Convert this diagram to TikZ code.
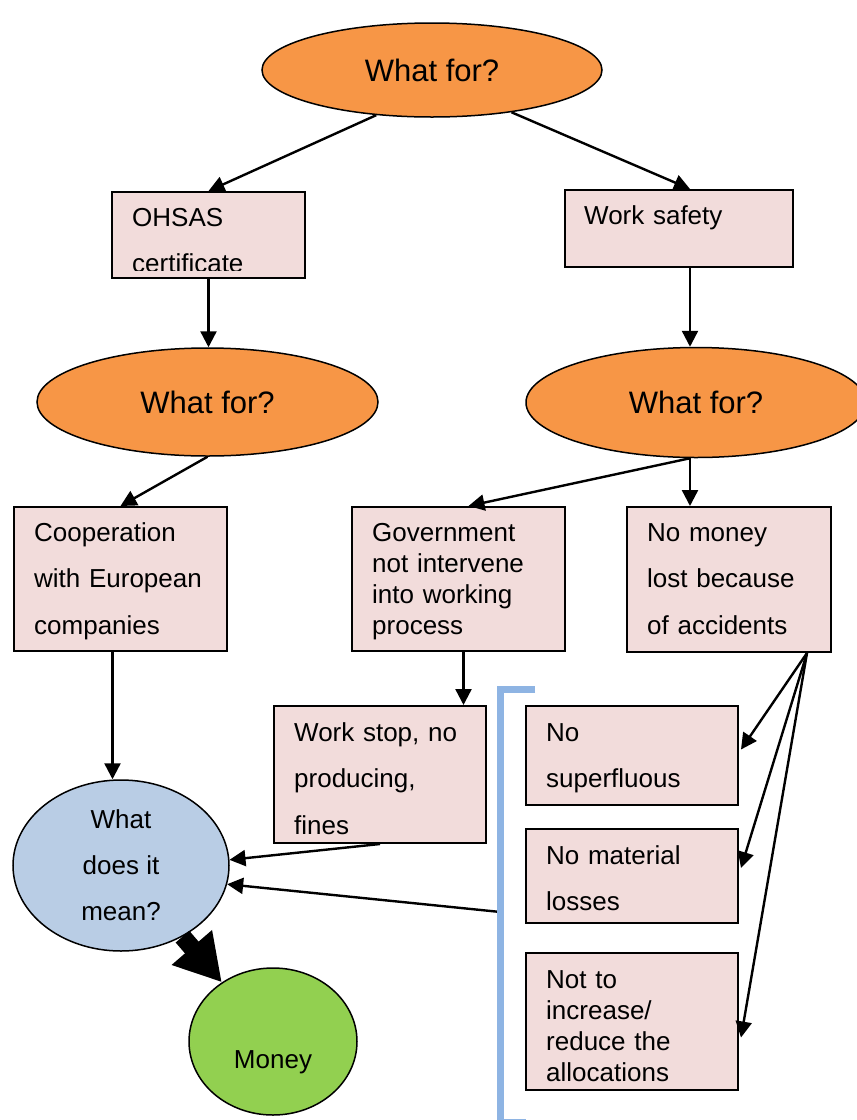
\documentclass[tikz,border=0pt]{standalone}
\usepackage{fontspec}
\setmainfont{Liberation Sans}
\usetikzlibrary{arrows.meta,shapes.geometric,calc}
\definecolor{orng}{HTML}{F79646}
\definecolor{pinkbox}{HTML}{F2DCDB}
\definecolor{blueell}{HTML}{B9CDE5}
\definecolor{greenell}{HTML}{92D050}
\definecolor{brk}{HTML}{8EB4E3}
\begin{document}
\begin{tikzpicture}[x=1pt,y=-1pt,
  box/.style={rectangle, draw=black, line width=2pt, fill=pinkbox, inner sep=0pt},
  ell/.style={ellipse, draw=black, line width=1.5pt, inner sep=0pt, font=\fontsize{31}{37}\selectfont},
  txt/.style={anchor=base west, inner sep=0pt, text width=195pt, align=left, font=\fontsize{26}{46.5}\selectfont},
  tighttxt/.style={txt, font=\fontsize{26}{31}\selectfont},
  arr/.style={line width=2.4pt, -{Triangle[length=16pt,width=16pt]}},
  bigarr/.style={line width=18pt, -{Triangle[length=46pt,width=50pt]}},
  bracketline/.style={draw=brk, line width=7pt}]
\useasboundingbox (0,0) rectangle (857,1120);
\fill[white] (0,0) rectangle (857,1120);

% top level
\node[ell, fill=orng, minimum width=340pt, minimum height=94pt] (top) at (432,70) {What for?};
\node[box, minimum width=193pt, minimum height=86pt] (ohsas) at (208.5,235) {};
\begin{scope}
  \clip ($(ohsas.south west)+(0,-9)$) rectangle (ohsas.north east);
  \node[txt] (ohsast) at ($(ohsas.north west)+(21,35)$) {OHSAS\\certificate};
\end{scope}
\node[box, minimum width=228pt, minimum height=77pt] (ws) at (679,228.5) {};
\node[txt] (wst) at ($(ws.north west)+(20,35)$) {Work safety};

% second level
\node[ell, fill=orng, minimum width=341pt, minimum height=108pt] (e2l) at (207.5,402) {What for?};
\node[ell, fill=orng, minimum width=340pt, minimum height=110pt] (e2r) at (696,402.5) {What for?};

% third level
\node[box, minimum width=213pt, minimum height=144pt] (coop) at (120.5,579) {};
\node[txt] (coopt) at ($(coop.north west)+(21,35)$) {Cooperation\\with European\\companies};
\node[box, minimum width=213pt, minimum height=144pt] (gov) at (458.5,579) {};
\node[tighttxt] (govt) at ($(gov.north west)+(21,35)$) {Government\\not intervene\\into working\\process};
\node[box, minimum width=204pt, minimum height=145pt] (nomoney) at (729,579.5) {};
\node[txt] (nomoneyt) at ($(nomoney.north west)+(21,35)$) {No money\\lost because\\of accidents};

% fourth level
\node[box, minimum width=212pt, minimum height=137pt] (stop) at (380,774.5) {};
\node[txt] (stopt) at ($(stop.north west)+(21,36)$) {Work stop, no\\producing,\\fines};
\node[box, minimum width=212pt, minimum height=99pt] (sup) at (632,755.5) {};
\node[txt] (supt) at ($(sup.north west)+(21,36)$) {No\\superfluous};
\node[box, minimum width=212pt, minimum height=94pt] (mat) at (632,876) {};
\node[txt] (matt) at ($(mat.north west)+(21,36)$) {No material\\losses};
\node[box, minimum width=212pt, minimum height=137pt] (inc) at (632,1021.5) {};
\node[tighttxt] (inct) at ($(inc.north west)+(21,36)$) {Not to\\increase/\\reduce the\\allocations};

% meaning and money
\node[ellipse, draw=black, line width=1.5pt, fill=blueell, inner sep=0pt, minimum width=216pt, minimum height=171pt, align=center, font=\fontsize{26}{46}\selectfont] (mean) at (121,865.5) {What\\does it\\mean?};
\node[ellipse, draw=black, line width=1.5pt, fill=greenell, inner sep=0pt, minimum width=168pt, minimum height=147pt] (money) at (273,1041.5) {};
\node[anchor=base, inner sep=0pt, font=\fontsize{26}{31}\selectfont] (moneyt) at (273,1068) {Money};

% connectors
\draw[arr] (top.219.6) -- (ohsas.north);
\coordinate (wsin) at ($(ws.north)+(11,0)$);
\draw[arr] (top.-28.9) -- (wsin);
\draw[arr] (ohsas.south) -- (ohsas.south |- e2l.north);
\coordinate (wsx) at ($(ws.south)+(11,0)$);
\draw[arr] (wsx) -- (wsx |- e2r.north);
\draw[arr] (e2l.south) -- (coop.north);
\coordinate (rb) at (wsx |- e2r.south);
\coordinate (govin) at ($(gov.north)+(10,0)$);
\draw[arr] (rb) -- (govin);
\draw[arr] (rb) -- (rb |- nomoney.north);
\coordinate (cs) at ($(coop.south)+(-8,0)$);
\draw[arr] (cs) -- (cs |- mean.north);
\coordinate (gs) at ($(gov.south)+(5,0)$);
\draw[arr] (gs) -- (gs |- stop.north);
\draw[arr] (stop.south) -- (mean.3);
\coordinate (bm) at (500.5,912);
\draw[arr] (bm) -- (mean.-10);
\coordinate (nm) at ($(nomoney.south)+(78,0)$);
\coordinate (supin) at ($(sup.east)+(2,-6)$);
\coordinate (matin) at ($(mat.east)+(2,-8)$);
\coordinate (incin) at ($(inc.east)+(2,16)$);
\draw[arr] (nm) -- (supin);
\draw[arr] (nm) -- (matin);
\draw[arr] (nm) -- (incin);
\draw[bigarr] (mean) -- (money);

% bracket
\draw[bracketline] (535,689) -- (500.5,689) -- (500.5,1122) -- (526,1122);
\end{tikzpicture}
\end{document}
